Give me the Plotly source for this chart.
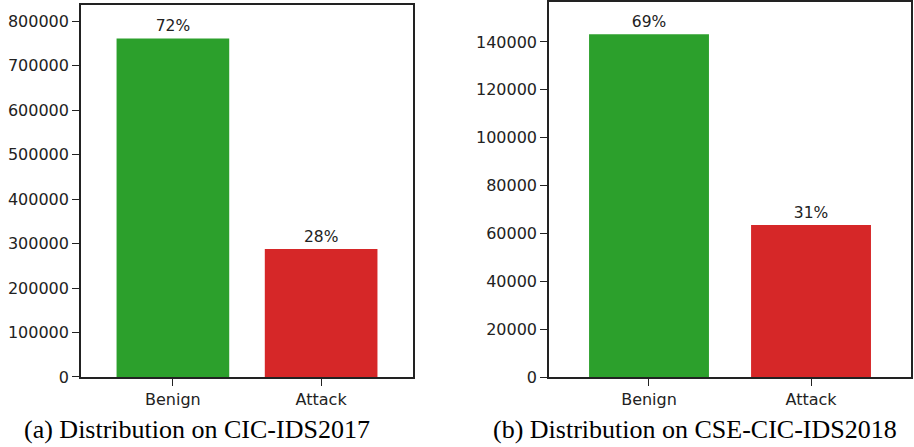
import plotly.graph_objects as go

# Class distribution of the two intrusion-detection datasets
categories = ["Benign", "Attack"]
counts_2017 = [761000, 287600]
counts_2018 = [143200, 63500]
pct_2017 = ["72%", "28%"]
pct_2018 = ["69%", "31%"]
ticks_2017 = [0, 100000, 200000, 300000, 400000, 500000, 600000, 700000, 800000]
ticks_2018 = [0, 20000, 40000, 60000, 80000, 100000, 120000, 140000]
captions = ["(a) Distribution on CIC-IDS2017", "(b) Distribution on CSE-CIC-IDS2018"]

bar_colors = ["#2ca02c", "#d62728"]
ytick_font = dict(family="DejaVu Sans", size=16, color="#222222")
xtick_font = dict(family="DejaVu Sans", size=16, color="#222222")
pct_font = dict(family="DejaVu Sans", size=15.5, color="#222222")

fig = go.Figure()

fig.add_trace(go.Bar(
    x=categories, y=counts_2017, width=0.76,
    marker=dict(color=bar_colors, line=dict(width=0)),
    text=pct_2017, textposition="outside", cliponaxis=False,
    textfont=pct_font, xaxis="x", yaxis="y", showlegend=False,
))
fig.add_trace(go.Bar(
    x=categories, y=counts_2018, width=0.74,
    marker=dict(color=bar_colors, line=dict(width=0)),
    text=pct_2018, textposition="outside", cliponaxis=False,
    textfont=pct_font, xaxis="x2", yaxis="y2", showlegend=False,
))

axis_common = dict(
    showline=True, linecolor="#222222", linewidth=1.6, mirror=True,
    ticks="outside", ticklen=7, tickwidth=1.2, tickcolor="#222222",
    showgrid=False, zeroline=False,
)

fig.update_layout(
    width=914, height=447,
    margin=dict(l=0, r=0, t=0, b=0),
    paper_bgcolor="white", plot_bgcolor="white",
    uniformtext=dict(mode=False),
    xaxis=dict(domain=[0.0886, 0.4519], range=[-0.62, 1.62], anchor="y",
               tickfont=xtick_font, automargin=False, **axis_common),
    yaxis=dict(domain=[0.1566, 0.9888], range=[0, 836000], anchor="x",
               tickmode="array", tickvals=ticks_2017,
               ticktext=[str(v) for v in ticks_2017], tickfont=ytick_font,
               automargin=False, **axis_common),
    xaxis2=dict(domain=[0.6007, 0.9967], range=[-0.617, 1.617], anchor="y2",
                tickfont=xtick_font, automargin=False, **axis_common),
    yaxis2=dict(domain=[0.1566, 0.9955], range=[0, 156700], anchor="x2",
                tickmode="array", tickvals=ticks_2018,
                ticktext=[str(v) for v in ticks_2018], tickfont=ytick_font,
                automargin=False, **axis_common),
)

caption_font = dict(family="Liberation Serif", size=26, color="black")
for xc, cap in zip([0.2155, 0.7604], captions):
    fig.add_annotation(
        x=xc, y=(447 - 429) / 447, xref="paper", yref="paper",
        text=cap, showarrow=False, font=caption_font,
        xanchor="center", yanchor="middle",
    )

fig.write_html("out.html")
